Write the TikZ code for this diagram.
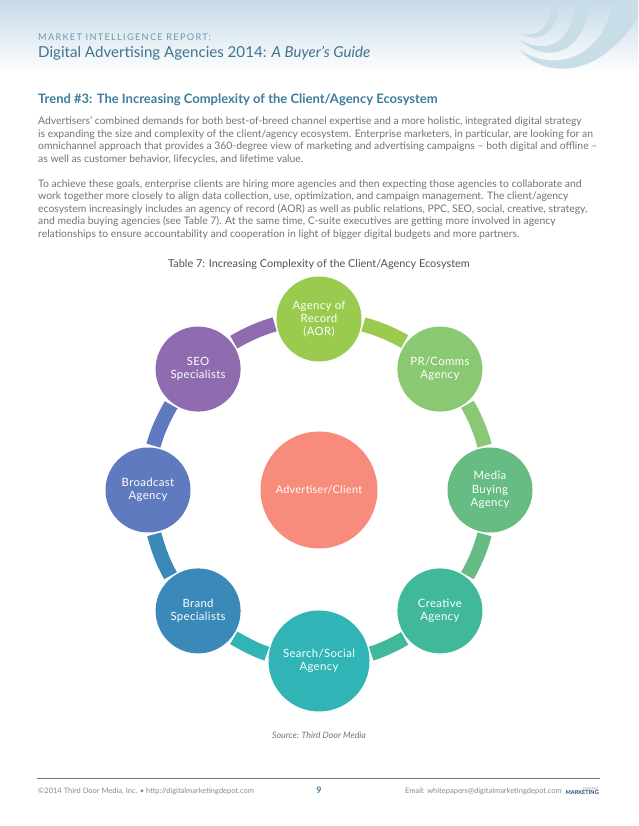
\documentclass[tikz,border=0pt]{standalone}
\usepackage{fontspec}
\setmainfont{Lato}
\usepackage{xcolor}
\usetikzlibrary{positioning, calc}
\definecolor{bandB}{HTML}{C6DBE7}
\definecolor{swooshB}{HTML}{C9DDE9}
\definecolor{headT}{HTML}{3F7491}
\definecolor{trendT}{HTML}{3E7C9B}
\definecolor{bodyG}{HTML}{6F7376}
\definecolor{aorC}{HTML}{9ACB4E}
\definecolor{prC}{HTML}{8BC873}
\definecolor{mediaC}{HTML}{66BC83}
\definecolor{creatC}{HTML}{40B99A}
\definecolor{searchC}{HTML}{30B4B5}
\definecolor{brandC}{HTML}{3A89B8}
\definecolor{broadC}{HTML}{5F7ABE}
\definecolor{seoC}{HTML}{8F6BB0}
\definecolor{hubC}{HTML}{F78C7D}
\definecolor{logoN}{HTML}{2B4A7A}
\tikzset{
  textline/.style={anchor=west, align=left, inner sep=0pt},
  bodytext/.style={textline, text=bodyG, font=\fontsize{10.4}{12.55}\selectfont},
  foottext/.style={inner sep=0pt, text=bodyG!85, font=\fontsize{7.5}{9}\selectfont},
  ringnode/.style={circle, inner sep=0pt, outer sep=2.2pt, text=white, align=center,
            font=\fontsize{11.4}{13.2}\selectfont\addfontfeature{LetterSpace=3}},
  ringarc/.style={line width=14.5pt, looseness=0.855}
}
\begin{document}
\begin{tikzpicture}[x=1pt, y=1pt]
  \useasboundingbox (0,0) rectangle (638,826);
  % header band and swooshes
  \shade[top color=bandB, bottom color=white] (0,826) rectangle (638,752);
  \fill[swooshB] (520,776) .. controls (545,747) and (600,747) .. (638,809) -- (638,826)
     -- (613,826) .. controls (607,775) and (560,750) .. (520,776) -- cycle;
  \fill[swooshB] (520,786) .. controls (545,762) and (585,770) .. (590,826)
     -- (577,826) .. controls (572,785) and (550,770) .. (520,786) -- cycle;
  \fill[swooshB] (520,793) .. controls (540,780) and (558,795) .. (560,826)
     -- (553,826) .. controls (550,795) and (535,788) .. (520,793) -- cycle;
  % header text
  \node[textline, text=headT!75, font=\fontsize{9.2}{11}\selectfont\addfontfeature{LetterSpace=14}] (report) at (38,789)
     {MARKET INTELLIGENCE REPORT:};
  \node[textline, text=headT, font=\fontsize{15.1}{18}\selectfont] (guide) at (38,772.5)
     {Digital Advertising Agencies 2014: \textit{A Buyer's Guide}};
  \node[textline, text=trendT, font=\fontsize{13}{15}\selectfont\bfseries] (trend) at (38,726.5)
     {Trend \#3: The Increasing Complexity of the Client/Agency Ecosystem};
  % paragraphs
  \node[bodytext, anchor=north west] (parA) at (38,709.5)
     {Advertisers' combined demands for both best-of-breed channel expertise and a more holistic, integrated digital strategy\\
      is expanding the size and complexity of the client/agency ecosystem. Enterprise marketers, in particular, are looking for an\\
      omnichannel approach that provides a 360-degree view of marketing and advertising campaigns -- both digital and offline --\\
      as well as customer behavior, lifecycles, and lifetime value.};
  \node[bodytext, anchor=north west] (parB) at (38,646.5)
     {To achieve these goals, enterprise clients are hiring more agencies and then expecting those agencies to collaborate and\\
      work together more closely to align data collection, use, optimization, and campaign management. The client/agency\\
      ecosystem increasingly includes an agency of record (AOR) as well as public relations, PPC, SEO, social, creative, strategy,\\
      and media buying agencies (see Table 7). At the same time, C-suite executives are getting more involved in agency\\
      relationships to ensure accountability and cooperation in light of bigger digital budgets and more partners.};
  \node[inner sep=0pt, text=bodyG!70!black, font=\fontsize{10.9}{13}\selectfont] (caption) at (319,561.5)
     {Table 7: Increasing Complexity of the Client/Agency Ecosystem};
  % ring
  \def\ringr{171}
  \node[ringnode, fill=hubC, minimum size=117pt, outer sep=0pt, font=\fontsize{10.8}{13}\selectfont\addfontfeature{LetterSpace=3}] (hub) at (319,336) {Advertiser/Client};
  \foreach \ang/\c/\sz/\lab [count=\n from 0] in {%
    90/aorC/85/{Agency of\\Record\\(AOR)},%
    45/prC/85/{PR/Comms\\Agency},%
    0/mediaC/85/{Media\\Buying\\Agency},%
    -45/creatC/85/{Creative\\Agency},%
    -90/searchC/101/{Search/Social\\Agency},%
    -135/brandC/85/{Brand\\Specialists},%
    180/broadC/85/{Broadcast\\Agency},%
    135/seoC/85/{SEO\\Specialists}}{%
      \node[ringnode, fill=\c, minimum size=\sz pt] (N\n) at ([shift={(\ang:\ringr)}]hub.center) {\lab};
  }
  % arcs between neighbours: from, to, angle of from, colour, clearance at each end
  \foreach \a/\b/\th/\c/\da/\db in {%
    0/1/90/aorC/15/15, 1/2/45/prC/15/15, 2/3/0/mediaC/15/15, 3/4/-45/creatC/15/17.7,%
    4/5/-90/searchC/17.7/15, 5/6/-135/brandC/15/15, 6/7/-180/broadC/15/15, 7/0/135/seoC/15/15}{
    \pgfmathsetmacro{\sa}{\th-90-\da/2}
    \pgfmathsetmacro{\oa}{\th-90-\da}
    \pgfmathsetmacro{\sb}{\th+45+\db/2}
    \pgfmathsetmacro{\ib}{\th+45+\db}
    \draw[ringarc, \c] (N\a.\sa) to[out=\oa, in=\ib] (N\b.\sb);
  }
  % footer
  \node[inner sep=0pt, text=bodyG, font=\fontsize{8.8}{10}\selectfont\itshape] (source) at (319,91) {Source: Third Door Media};
  \coordinate (ruleL) at (37,48);
  \coordinate (ruleR) at (600,48);
  \draw[bodyG, line width=0.7pt] (ruleL) -- (ruleR);
  \node[foottext, anchor=west] (copyright) at (38,35) {©2014 Third Door Media, Inc. • http://digitalmarketingdepot.com};
  \node[inner sep=0pt, text=trendT, font=\fontsize{9}{11}\selectfont\bfseries] (pagenum) at (319,35.5) {9};
  \node[foottext, anchor=east] (email) at (562,35) {Email: whitepapers@digitalmarketingdepot.com};
  \node[inner sep=0pt, anchor=east, text=logoN, font=\fontsize{5.6}{6}\selectfont\bfseries] (logoB) at (599,33.5) {MARKETING};
  \node[inner sep=0pt, anchor=south east, text=bodyG!70, font=\fontsize{4.2}{5}\selectfont] (logoA) at (599,35.5) {DIGITAL};
\end{tikzpicture}
\end{document}
